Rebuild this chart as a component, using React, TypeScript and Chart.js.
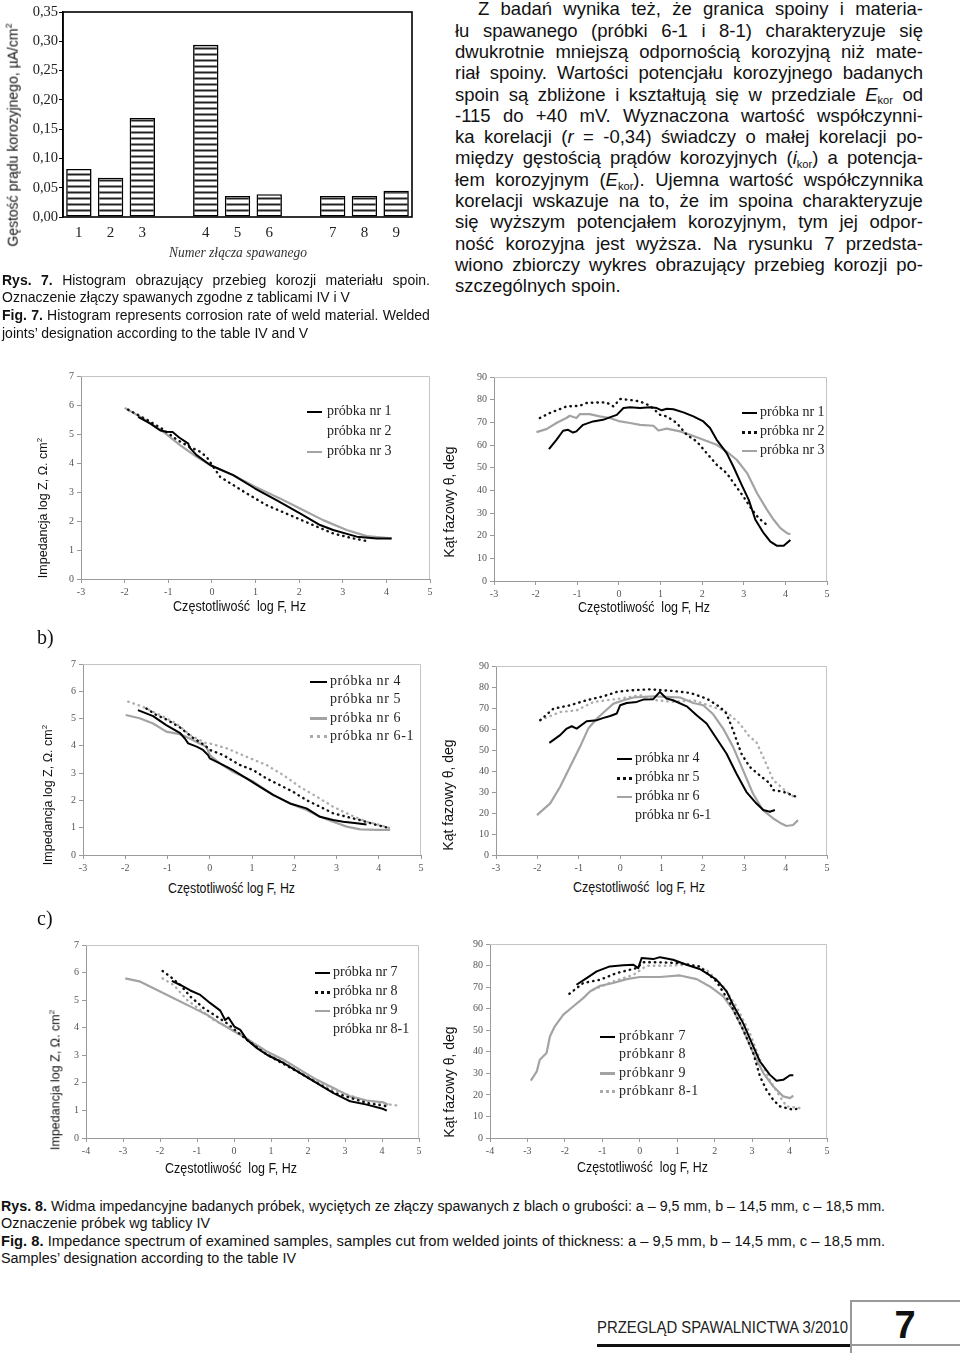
import React, { useEffect, useLayoutEffect, useRef } from "react";
import { Chart, registerables } from "chart.js";
Chart.register(...registerables);

type Pt = [number, number];
type Kind = "k" | "kd" | "g" | "gd" | "";

// ---------- Rys. 7 histogram ----------
const histCategories = ["1", "2", "3", "", "4", "5", "6", "", "7", "8", "9"];
const histValues: (number | null)[] = [0.082, 0.067, 0.169, null, 0.294, 0.036, 0.039, null, 0.036, 0.036, 0.045];

// ---------- Rys. 8a ----------
const zA1: Pt[] = [[-1.69,5.59],[-1.4,5.35],[-1.19,5.13],[-1.05,5.08],[-0.9,5.07],[-0.75,4.88],[-0.54,4.67],[-0.52,4.55],[-0.35,4.27],[-0.04,3.93],[0.49,3.58],[0.99,3.12],[1.48,2.72],[2.02,2.26],[2.48,1.86],[2.78,1.69],[3.32,1.46],[3.78,1.4],[4.12,1.4]];
const zA2: Pt[] = [[-1.92,5.84],[-1.5,5.5],[-1.15,5.19],[-0.8,4.8],[-0.5,4.55],[-0.27,4.39],[-0.12,4.21],[0.19,3.52],[0.8,2.95],[1.25,2.55],[1.87,2.15],[2.32,1.86],[2.78,1.57],[3.24,1.4],[3.62,1.29]];
const zA3: Pt[] = [[-2.0,5.9],[-1.57,5.53],[-1.11,5.07],[-0.73,4.62],[-0.35,4.21],[0.03,3.87],[0.49,3.58],[0.99,3.18],[1.56,2.78],[2.02,2.43],[2.55,2.03],[3.09,1.69],[3.55,1.48],[4.12,1.4]];
const pA1: Pt[] = [[-1.68,58.2],[-1.5,62.3],[-1.34,66.3],[-1.22,66.7],[-1.1,65.5],[-1.02,66.0],[-0.86,68.9],[-0.62,70.4],[-0.38,71.1],[-0.22,72.2],[-0.05,73.3],[0.11,76.3],[0.27,76.7],[0.51,76.3],[0.75,76.7],[0.91,76.3],[1.03,75.3],[1.15,76.0],[1.31,75.8],[1.55,74.4],[1.79,72.6],[2.03,70.4],[2.19,67.5],[2.35,62.3],[2.59,56.4],[2.75,50.5],[2.95,42.4],[3.12,35.8],[3.28,27.0],[3.48,21.1],[3.64,17.4],[3.8,15.5],[3.96,15.5],[4.12,18.1]];
const pA2: Pt[] = [[-1.9,71.9],[-1.66,74.1],[-1.26,77.0],[-0.94,77.3],[-0.78,78.5],[-0.46,78.8],[-0.3,78.8],[-0.13,77.0],[0.03,80.3],[0.19,80.0],[0.35,79.7],[0.51,79.2],[0.75,77.3],[0.99,73.3],[1.15,72.6],[1.39,69.7],[1.63,64.5],[1.87,61.6],[2.11,56.4],[2.35,51.3],[2.59,47.6],[2.79,42.4],[2.99,37.3],[3.2,31.4],[3.36,27.7],[3.56,24.7]];
const pA3: Pt[] = [[-1.98,65.7],[-1.74,67.0],[-1.5,69.7],[-1.26,71.9],[-1.18,72.9],[-1.02,71.9],[-0.94,73.6],[-0.7,73.6],[-0.46,72.6],[-0.22,71.9],[0.03,70.4],[0.27,69.7],[0.51,68.9],[0.83,68.5],[0.95,66.4],[1.15,67.2],[1.47,66.0],[1.71,64.5],[2.03,62.3],[2.35,60.1],[2.59,57.1],[2.83,53.5],[3.08,47.6],[3.32,38.7],[3.56,31.4],[3.72,27.0],[3.88,23.3],[4.04,21.1],[4.12,20.6]];

// ---------- Rys. 8b ----------
const zB4: Pt[] = [[-1.7,5.31],[-1.34,5.09],[-1.03,4.76],[-0.71,4.48],[-0.59,4.27],[-0.51,4.09],[-0.31,3.97],[-0.16,3.85],[-0.04,3.66],[0.0,3.54],[0.24,3.36],[0.55,3.11],[0.87,2.81],[1.19,2.5],[1.5,2.2],[1.9,1.89],[2.29,1.71],[2.61,1.4],[2.92,1.28],[3.16,1.22],[3.48,1.16],[3.71,1.12]];
const zB5: Pt[] = [[-1.5,5.37],[-1.26,5.13],[-1.03,4.97],[-0.71,4.68],[-0.4,4.3],[-0.1,4.0],[0.0,3.85],[0.32,3.66],[0.71,3.3],[1.03,3.11],[1.34,2.81],[1.66,2.56],[1.97,2.32],[2.29,2.01],[2.61,1.77],[2.92,1.53],[3.24,1.4],[3.56,1.28],[3.95,1.1],[4.27,0.98]];
const zB6: Pt[] = [[-1.99,5.13],[-1.66,5.01],[-1.34,4.82],[-1.03,4.52],[-0.71,4.43],[-0.47,4.27],[-0.24,4.09],[-0.08,3.97],[0.0,3.66],[0.24,3.36],[0.55,3.05],[1.03,2.69],[1.5,2.2],[1.9,1.89],[2.29,1.65],[2.61,1.4],[2.92,1.22],[3.24,1.04],[3.56,0.94],[3.95,0.92],[4.27,0.92]];
const zB61: Pt[] = [[-1.93,5.62],[-1.58,5.43],[-1.18,5.13],[-0.79,4.82],[-0.47,4.4],[-0.08,4.09],[0.0,4.09],[0.4,3.91],[0.87,3.6],[1.34,3.3],[1.74,2.93],[2.13,2.5],[2.53,2.14],[2.92,1.77],[3.32,1.47],[3.71,1.22],[4.03,1.1],[4.27,0.98]];
const pB4: Pt[] = [[-1.71,53.4],[-1.45,57.1],[-1.29,60.2],[-1.17,61.3],[-1.05,60.2],[-0.81,63.7],[-0.56,64.2],[-0.4,65.3],[-0.24,66.2],[-0.08,67.4],[0.0,71.3],[0.16,72.4],[0.4,72.9],[0.56,74.0],[0.8,74.2],[0.96,77.7],[1.12,74.5],[1.28,73.7],[1.61,70.8],[1.85,66.6],[2.09,62.6],[2.33,55.5],[2.57,48.3],[2.81,38.8],[3.05,30.1],[3.29,24.6],[3.46,21.4],[3.62,20.6],[3.74,21.4]];
const pB5: Pt[] = [[-1.93,64.2],[-1.61,69.7],[-1.21,71.3],[-0.81,73.7],[-0.4,75.6],[-0.08,77.7],[0.24,78.4],[0.72,78.9],[1.28,78.1],[1.69,77.2],[2.09,74.5],[2.41,70.5],[2.57,67.4],[2.73,59.4],[2.93,48.3],[3.13,42.0],[3.37,38.0],[3.62,34.1],[3.7,30.9],[3.94,30.1],[4.26,27.7]];
const pB6: Pt[] = [[-2.01,19.0],[-1.69,24.6],[-1.45,32.5],[-1.21,42.0],[-0.97,51.5],[-0.77,60.2],[-0.56,65.0],[-0.32,69.3],[-0.16,72.1],[0.08,73.7],[0.32,75.0],[0.8,75.6],[1.12,75.3],[1.45,75.0],[1.77,72.4],[2.01,71.3],[2.25,67.0],[2.49,60.2],[2.73,51.5],[2.97,40.4],[3.21,29.3],[3.45,21.4],[3.7,17.4],[3.86,15.4],[4.02,13.8],[4.18,14.3],[4.3,16.6]];
const pB61: Pt[] = [[-1.93,64.2],[-1.45,68.1],[-1.05,68.9],[-0.64,72.9],[-0.32,73.7],[0.0,74.5],[0.48,76.1],[0.88,73.7],[1.28,72.9],[1.77,73.7],[2.25,70.5],[2.57,68.1],[2.89,62.6],[3.13,56.3],[3.29,53.9],[3.49,45.2],[3.7,35.7],[4.02,30.1],[4.26,26.9]];

// ---------- Rys. 8c ----------
const zC7: Pt[] = [[-1.68,5.7],[-1.45,5.55],[-1.18,5.35],[-0.91,5.19],[-0.64,4.89],[-0.37,4.62],[-0.24,4.28],[-0.15,4.37],[0.01,4.04],[0.17,3.92],[0.35,3.56],[0.62,3.26],[0.89,3.02],[1.34,2.72],[1.79,2.35],[2.24,1.99],[2.69,1.63],[3.14,1.33],[3.59,1.21],[4.04,1.05],[4.13,0.99]];
const zC8: Pt[] = [[-1.93,6.06],[-1.72,5.85],[-1.45,5.55],[-1.18,5.13],[-0.82,4.71],[-0.46,4.4],[-0.19,4.16],[0.35,3.56],[0.89,3.02],[1.79,2.35],[2.69,1.65],[3.59,1.27],[4.13,1.15]];
const zC9: Pt[] = [[-2.94,5.79],[-2.53,5.67],[-2.08,5.37],[-1.63,5.07],[-1.09,4.71],[-0.73,4.47],[-0.37,4.16],[0.01,3.86],[0.26,3.68],[0.53,3.44],[0.89,3.14],[1.34,2.84],[1.79,2.47],[2.24,2.11],[2.69,1.81],[3.14,1.51],[3.59,1.36],[4.04,1.29],[4.17,1.21]];
const zC81: Pt[] = [[-1.93,5.79],[-1.63,5.55],[-1.27,5.01],[-0.91,4.65],[-0.55,4.28],[-0.19,4.04],[0.17,3.74],[0.89,3.08],[1.79,2.41],[2.69,1.75],[3.59,1.33],[4.45,1.17]];
const pC7: Pt[] = [[-1.69,71.1],[-1.42,74.2],[-1.15,77.3],[-0.8,79.6],[-0.44,80.1],[-0.17,80.4],[-0.04,78.8],[0.05,83.5],[0.36,83.0],[0.54,83.9],[0.89,82.7],[1.25,80.4],[1.6,78.4],[1.78,76.5],[2.05,73.4],[2.32,68.0],[2.49,61.8],[2.76,53.3],[3.03,42.5],[3.21,35.5],[3.47,29.4],[3.65,26.6],[3.83,27.0],[4.01,29.1],[4.1,29.1]];
const pC8: Pt[] = [[-1.88,66.9],[-1.51,71.9],[-1.06,73.4],[-0.62,76.5],[-0.09,78.8],[0.09,81.5],[0.54,81.5],[1.07,81.1],[1.6,79.6],[2.05,72.6],[2.41,62.6],[2.76,50.2],[3.03,39.4],[3.21,28.6],[3.38,22.4],[3.56,17.8],[3.74,14.7],[4.1,13.1],[4.27,13.9]];
const pC9: Pt[] = [[-2.91,26.6],[-2.75,30.9],[-2.67,36.3],[-2.49,39.4],[-2.4,47.1],[-2.27,51.8],[-2.04,57.2],[-1.78,61.0],[-1.51,64.9],[-1.33,68.0],[-1.06,70.6],[-0.71,71.9],[-0.35,73.7],[0.0,74.7],[0.54,74.7],[1.07,75.4],[1.52,73.7],[1.87,70.3],[2.23,65.7],[2.49,59.5],[2.76,50.2],[3.03,39.4],[3.3,30.1],[3.56,24.0],[3.83,19.3],[4.01,18.5],[4.1,19.6]];
const pC81: Pt[] = [[-1.24,68.8],[-0.71,72.6],[-0.17,75.7],[0.18,79.9],[0.72,79.9],[1.25,80.4],[1.78,78.1],[2.23,70.3],[2.58,61.0],[2.94,48.7],[3.21,36.3],[3.47,27.0],[3.74,19.3],[3.92,14.7],[4.27,13.9]];

// ---------- texts ----------
const paraLines = [
  "Z badań wynika też, że granica spoiny i materia-",
  "łu spawanego (próbki 6-1 i 8-1) charakteryzuje się",
  "dwukrotnie mniejszą odpornością korozyjną niż mate-",
  "riał spoiny. Wartości potencjału korozyjnego badanych",
  "spoin są zbliżone i kształtują się w przedziale {E} od",
  "-115 do +40 mV. Wyznaczona wartość współczynni-",
  "ka korelacji ({r} = -0,34) świadczy o małej korelacji po-",
  "między gęstością prądów korozyjnych ({i}) a potencja-",
  "łem korozyjnym ({E}). Ujemna wartość współczynnika",
  "korelacji wskazuje na to, że im spoina charakteryzuje",
  "się wyższym potencjałem korozyjnym, tym jej odpor-",
  "ność korozyjna jest wyższa. Na rysunku 7 przedsta-",
  "wiono zbiorczy wykres obrazujący przebieg korozji po-",
  "szczególnych spoin.",
];
const cap7Lines = [
  "*Rys. *7. Histogram obrazujący przebieg korozji materiału spoin.",
  "Oznaczenie złączy spawanych zgodne z tablicami IV i V",
  "*Fig. *7. Histogram represents corrosion rate of weld material. Welded",
  "joints’ designation according to the table IV and V",
];
const cap8Lines = [
  ["Rys. 8.", " Widma impedancyjne badanych próbek, wyciętych ze złączy spawanych z blach o grubości: a – 9,5 mm, b – 14,5 mm, c – 18,5 mm."],
  ["", "Oznaczenie próbek wg tablicy IV"],
  ["Fig. 8.", " Impedance spectrum of examined samples, samples cut from welded joints of thickness: a – 9,5 mm, b – 14,5 mm, c – 18,5 mm."],
  ["", "Samples’ designation according to the table IV"],
];

const serif = "'Liberation Serif','Times New Roman',serif";
const sans = "'Liberation Sans',Arial,Helvetica,sans-serif";

type Plot = { l: number; t: number; r: number; b: number };
type Dims = { padL: number; padT: number; padR: number; padB: number; yW: number; xH: number };

const fixY = (w: number) => (s: any) => { s.width = w; s.paddingTop = 0; s.paddingBottom = 0; s.paddingLeft = 0; s.paddingRight = 0; };
const fixX = (h: number) => (s: any) => { s.height = h; s.paddingTop = 0; s.paddingBottom = 0; s.paddingLeft = 0; s.paddingRight = 0; };

function ChartCanvas({ plot, yW, xH, make }: { plot: Plot; yW: number; xH: number; make: (d: Dims) => any }) {
  const ref = useRef<HTMLCanvasElement | null>(null);
  const d: Dims = { padL: 2, padT: 10, padR: 12, padB: 2, yW, xH };
  const left = plot.l - yW - d.padL;
  const top = plot.t - d.padT;
  const width = plot.r - plot.l + yW + d.padL + d.padR;
  const height = plot.b - plot.t + d.padT + xH + d.padB;
  useEffect(() => {
    const c = new Chart(ref.current as HTMLCanvasElement, make(d));
    return () => c.destroy();
  }, []);
  return <canvas ref={ref} width={width} height={height} style={{ position: "absolute", left, top, width, height }} />;
}

function styleOf(kind: Kind): any {
  if (kind === "k") return { borderColor: "#000", borderWidth: 2 };
  if (kind === "g") return { borderColor: "#a3a3a3", borderWidth: 2.2 };
  if (kind === "kd") return { borderColor: "#111", borderWidth: 2.4, borderDash: [0.5, 5], borderCapStyle: "round" };
  return { borderColor: "#adadad", borderWidth: 2.4, borderDash: [0.5, 5], borderCapStyle: "round" };
}

const topRightFrame = {
  id: "trframe",
  afterDatasetsDraw(chart: any) {
    const { ctx, chartArea: a } = chart;
    ctx.save();
    ctx.strokeStyle = "#c4c4c4";
    ctx.lineWidth = 1;
    ctx.beginPath();
    ctx.moveTo(a.left, a.top + 0.5);
    ctx.lineTo(a.right - 0.5, a.top + 0.5);
    ctx.lineTo(a.right - 0.5, a.bottom);
    ctx.stroke();
    ctx.restore();
  },
};

function lineConfig(series: { pts: Pt[]; kind: Kind }[], xMin: number, yMax: number, yStep: number) {
  return (d: Dims) => ({
    type: "scatter",
    data: {
      datasets: series.map((s) => ({
        data: s.pts.map(([x, y]) => ({ x, y })),
        showLine: true,
        pointRadius: 0,
        tension: 0,
        fill: false,
        borderJoinStyle: "round",
        ...styleOf(s.kind),
      })),
    },
    options: {
      animation: false,
      responsive: false,
      events: [],
      layout: { padding: { left: d.padL, top: d.padT, right: d.padR, bottom: d.padB } },
      plugins: { legend: { display: false }, tooltip: { enabled: false } },
      scales: {
        x: {
          type: "linear", min: xMin, max: 5,
          ticks: { stepSize: 1, font: { family: serif, size: 10 }, color: "#555", padding: 3, maxRotation: 0, autoSkip: false },
          grid: { drawOnChartArea: false, drawTicks: true, tickLength: 4, color: "#9a9a9a" },
          border: { color: "#9a9a9a" },
          afterFit: fixX(d.xH),
        },
        y: {
          type: "linear", min: 0, max: yMax,
          ticks: { stepSize: yStep, font: { family: serif, size: 10 }, color: "#555", padding: 3, autoSkip: false },
          grid: { drawOnChartArea: false, drawTicks: true, tickLength: 4, color: "#9a9a9a" },
          border: { color: "#9a9a9a" },
          afterFit: fixY(d.yW),
        },
      },
    },
    plugins: [topRightFrame],
  });
}

function histConfig(d: Dims) {
  const pc = document.createElement("canvas");
  pc.width = 6; pc.height = 6;
  const pctx = pc.getContext("2d") as CanvasRenderingContext2D;
  pctx.fillStyle = "#fff"; pctx.fillRect(0, 0, 6, 6);
  pctx.fillStyle = "#222"; pctx.fillRect(0, 3.5, 6, 2);
  const pattern = pctx.createPattern(pc, "repeat");
  return {
    type: "bar",
    data: {
      labels: histCategories,
      datasets: [{
        data: histValues,
        backgroundColor: pattern,
        borderColor: "#000",
        borderWidth: 1.6,
        borderSkipped: false,
        barPercentage: 0.8,
        categoryPercentage: 1,
      }],
    },
    options: {
      animation: false,
      responsive: false,
      events: [],
      layout: { padding: { left: d.padL, top: d.padT, right: d.padR, bottom: d.padB } },
      plugins: { legend: { display: false }, tooltip: { enabled: false } },
      scales: {
        x: {
          ticks: { font: { family: serif, size: 15 }, color: "#222", padding: 7, maxRotation: 0, autoSkip: false },
          grid: { display: false, drawTicks: false },
          border: { display: false },
          afterFit: fixX(d.xH),
        },
        y: {
          min: 0, max: 0.35,
          ticks: { stepSize: 0.05, font: { family: serif, size: 14.5 }, color: "#222", padding: 1,
            callback: (v: any) => Number(v).toFixed(2).replace(".", ",") },
          grid: { drawOnChartArea: false, drawTicks: true, tickLength: 4, color: "#000" },
          border: { color: "#000", width: 1.5 },
          afterFit: fixY(d.yW),
        },
      },
    },
    plugins: [{
      id: "hframe",
      afterDatasetsDraw(chart: any) {
        const { ctx, chartArea: a } = chart;
        ctx.save();
        ctx.strokeStyle = "#000";
        ctx.lineWidth = 1.6;
        ctx.strokeRect(a.left, a.top, a.right - a.left, a.bottom - a.top);
        ctx.restore();
      },
    }],
  };
}

function Word({ w }: { w: string }) {
  const parts = w.split(/(\{[Eir]\})/);
  return (
    <span>
      {parts.map((p, i) => {
        const m = p.match(/^\{([Eir])\}$/);
        if (!m) return <React.Fragment key={i}>{p}</React.Fragment>;
        return (
          <span key={i}>
            <i>{m[1]}</i>
            {m[1] !== "r" && <span style={{ fontSize: "0.6em", position: "relative", top: "0.35em" }}>kor</span>}
          </span>
        );
      })}
    </span>
  );
}

function JustLine({ text, left, top, width, font, lh, justify }: { text: string; left: number; top: number; width: number; font: string; lh: number; justify: boolean }) {
  const tokens = text.split(" ");
  if (!justify) {
    return (
      <div style={{ position: "absolute", left, top, height: lh, lineHeight: lh + "px", font, whiteSpace: "pre", color: "#111" }}>
        {tokens.map((t, i) => <React.Fragment key={i}>{i > 0 ? " " : ""}<Word w={t} /></React.Fragment>)}
      </div>
    );
  }
  return (
    <div style={{ position: "absolute", left, top, width, height: lh, lineHeight: lh + "px", font, display: "flex", justifyContent: "space-between", whiteSpace: "pre", color: "#111" }}>
      {tokens.map((t, i) => <Word key={i} w={t} />)}
    </div>
  );
}

function CapLine({ text, left, top, width, justify }: { text: string; left: number; top: number; width: number; justify: boolean }) {
  // '*' marks bold words
  const tokens = text.split(" ").map((t) => t.replace(/\*/g, ""));
  const boldCount = (text.match(/\*/g) || []).length;
  const style: React.CSSProperties = { position: "absolute", left, top, height: 18, lineHeight: "18px", font: `14px ${sans}`, whiteSpace: "pre", color: "#111" };
  const items = tokens.map((t, i) => <span key={i} style={{ fontWeight: i < boldCount ? 700 : 400 }}>{t}</span>);
  if (justify) return <div style={{ ...style, width, display: "flex", justifyContent: "space-between" }}>{items}</div>;
  return <div style={style}>{items.map((it, i) => <React.Fragment key={i}>{i > 0 ? " " : ""}{it}</React.Fragment>)}</div>;
}

function FitText({ left, cy, width, h, style, children }: { left: number; cy: number; width: number; h: number; style?: React.CSSProperties; children: React.ReactNode }) {
  const ref = useRef<HTMLSpanElement | null>(null);
  useLayoutEffect(() => {
    const el = ref.current;
    if (!el) return;
    el.style.transform = "none";
    const w = el.getBoundingClientRect().width;
    if (w > 0) el.style.transform = `scaleX(${width / w})`;
  }, []);
  return (
    <span ref={ref} style={{ position: "absolute", left, top: cy - h / 2, height: h, lineHeight: h + "px", whiteSpace: "pre", display: "inline-block", transformOrigin: "0 50%", color: "#111", ...style }}>
      {children}
    </span>
  );
}

function VTitle({ cx, cy, text, size }: { cx: number; cy: number; text: React.ReactNode; size: number }) {
  return (
    <div style={{ position: "absolute", left: cx, top: cy, transform: "translate(-50%,-50%) rotate(-90deg)", whiteSpace: "pre", font: `${size}px ${sans}`, color: "#111" }}>
      {text}
    </div>
  );
}

function Legend({ x, sw, tx, y, gap, items, ls }: { x: number; sw: number; tx: number; y: number; gap: number; items: [string, Kind][]; ls?: number }) {
  return (
    <>
      {items.map(([label, kind], i) => {
        const cy = y + i * gap;
        let sample: React.CSSProperties | null = null;
        if (kind === "k") sample = { top: cy - 1.25, height: 2.5, background: "#000" };
        if (kind === "g") sample = { top: cy - 1.25, height: 2.5, background: "#a3a3a3" };
        if (kind === "kd") sample = { top: cy - 1.5, height: 0, borderTop: "3px dotted #111" };
        if (kind === "gd") sample = { top: cy - 1.5, height: 0, borderTop: "3px dotted #aaa" };
        return (
          <React.Fragment key={i}>
            {sample && <div style={{ position: "absolute", left: x, width: sw, ...sample }} />}
            <div style={{ position: "absolute", left: tx, top: cy - 9, height: 18, lineHeight: "18px", font: `14px ${serif}`, color: "#222", whiteSpace: "pre", letterSpacing: ls || 0 }}>{label}</div>
          </React.Fragment>
        );
      })}
    </>
  );
}

const impTitle = <span>Impedancja log Z, Ω. cm<sup style={{ fontSize: "0.65em" }}>2</sup></span>;
const phaseTitle = "Kąt fazowy θ, deg";

export default function App() {
  return (
    <div style={{ position: "absolute", left: 0, top: 0, width: 960, height: 1353, background: "#fff", overflow: "hidden", fontFamily: sans }}>
      {/* Histogram */}
      <ChartCanvas plot={{ l: 63, t: 12, r: 412, b: 217 }} yW={60} xH={28} make={histConfig} />
      <VTitle cx={12} cy={135} size={14} text={<span>Gęstość prądu korozyjnego, µA/cm<sup style={{ fontSize: "0.65em" }}>2</sup></span>} />
      <FitText left={169} cy={253} width={138} h={18} style={{ font: `italic 15px ${serif}`, color: "#333" }}>Numer złącza spawanego</FitText>

      {/* Paragraph */}
      {paraLines.map((t, i) => (
        <JustLine key={i} text={t} left={i === 0 ? 478 : 455} top={9 + i * 21.3 - 10.65} width={i === 0 ? 445 : 468}
          font={`18.5px ${sans}`} lh={21.3} justify={i < paraLines.length - 1} />
      ))}

      {/* Caption Rys. 7 */}
      {cap7Lines.map((t, i) => (
        <CapLine key={i} text={t} left={2} top={[281, 298, 316, 334][i] - 9} width={428} justify={i === 0 || i === 2} />
      ))}

      {/* Rys 8a */}
      <ChartCanvas plot={{ l: 81, t: 376, r: 430, b: 579 }} yW={30} xH={22}
        make={lineConfig([{ pts: zA1, kind: "k" }, { pts: zA2, kind: "kd" }, { pts: zA3, kind: "g" }], -3, 7, 1)} />
      <Legend x={307} sw={15} tx={327} y={412} gap={20} items={[["próbka nr 1", "k"], ["próbka nr 2", ""], ["próbka nr 3", "g"]]} />
      <VTitle cx={43} cy={508} size={12.5} text={impTitle} />
      <FitText left={173} cy={607} width={133} h={18} style={{ font: `14px ${sans}` }}>Częstotliwość  log F, Hz</FitText>

      <ChartCanvas plot={{ l: 494, t: 377, r: 827, b: 581 }} yW={30} xH={22}
        make={lineConfig([{ pts: pA1, kind: "k" }, { pts: pA2, kind: "kd" }, { pts: pA3, kind: "g" }], -3, 90, 10)} />
      <Legend x={742} sw={15} tx={760} y={413} gap={19} items={[["próbka nr 1", "k"], ["próbka nr 2", "kd"], ["próbka nr 3", "g"]]} />
      <VTitle cx={449} cy={502} size={14} text={phaseTitle} />
      <FitText left={578} cy={608} width={132} h={18} style={{ font: `14px ${sans}` }}>Częstotliwość  log F, Hz</FitText>

      {/* b) */}
      <div style={{ position: "absolute", left: 37, top: 625, font: `20px ${serif}`, lineHeight: "24px", color: "#111" }}>b)</div>
      <ChartCanvas plot={{ l: 83, t: 664, r: 421, b: 855 }} yW={30} xH={22}
        make={lineConfig([{ pts: zB4, kind: "k" }, { pts: zB5, kind: "kd" }, { pts: zB6, kind: "g" }, { pts: zB61, kind: "gd" }], -3, 7, 1)} />
      <Legend x={310} sw={17} tx={330} y={682} gap={18.3} ls={0.6} items={[["próbka nr 4", "k"], ["próbka nr 5", ""], ["próbka nr 6", "g"], ["próbka nr 6-1", "gd"]]} />
      <VTitle cx={48} cy={795} size={12.5} text={impTitle} />
      <FitText left={168} cy={889} width={127} h={18} style={{ font: `14px ${sans}` }}>Częstotliwość log F, Hz</FitText>

      <ChartCanvas plot={{ l: 496, t: 666, r: 827, b: 855 }} yW={30} xH={22}
        make={lineConfig([{ pts: pB4, kind: "k" }, { pts: pB5, kind: "kd" }, { pts: pB6, kind: "g" }, { pts: pB61, kind: "gd" }], -3, 90, 10)} />
      <Legend x={617} sw={15} tx={635} y={759} gap={19} items={[["próbka nr 4", "k"], ["próbka nr 5", "kd"], ["próbka nr 6", "g"], ["próbka nr 6-1", ""]]} />
      <VTitle cx={448} cy={795} size={14} text={phaseTitle} />
      <FitText left={573} cy={888} width={132} h={18} style={{ font: `14px ${sans}` }}>Częstotliwość  log F, Hz</FitText>

      {/* c) */}
      <div style={{ position: "absolute", left: 37, top: 906, font: `20px ${serif}`, lineHeight: "24px", color: "#111" }}>c)</div>
      <ChartCanvas plot={{ l: 86, t: 945, r: 419, b: 1138 }} yW={30} xH={22}
        make={lineConfig([{ pts: zC7, kind: "k" }, { pts: zC8, kind: "kd" }, { pts: zC9, kind: "g" }, { pts: zC81, kind: "gd" }], -4, 7, 1)} />
      <Legend x={315} sw={15} tx={333} y={973} gap={19} items={[["próbka nr 7", "k"], ["próbka nr 8", "kd"], ["próbka nr 9", "g"], ["próbka nr 8-1", ""]]} />
      <VTitle cx={55} cy={1080} size={12.5} text={impTitle} />
      <FitText left={165} cy={1169} width={132} h={18} style={{ font: `14px ${sans}` }}>Częstotliwość  log F, Hz</FitText>

      <ChartCanvas plot={{ l: 490, t: 944, r: 827, b: 1138 }} yW={30} xH={22}
        make={lineConfig([{ pts: pC7, kind: "k" }, { pts: pC8, kind: "kd" }, { pts: pC9, kind: "g" }, { pts: pC81, kind: "gd" }], -4, 90, 10)} />
      <Legend x={600} sw={15} tx={619} y={1037} gap={18.3} ls={0.6} items={[["próbkanr 7", "k"], ["próbkanr 8", ""], ["próbkanr 9", "g"], ["próbkanr 8-1", "gd"]]} />
      <VTitle cx={449} cy={1082} size={14} text={phaseTitle} />
      <FitText left={577} cy={1168} width={131} h={18} style={{ font: `14px ${sans}` }}>Częstotliwość  log F, Hz</FitText>

      {/* Caption Rys. 8 */}
      {cap8Lines.map(([b, t], i) => (
        <FitText key={i} left={1} cy={[1206, 1223, 1241, 1258][i]} width={[884, 209, 884, 295][i]} h={17} style={{ font: `14px ${sans}` }}>
          {b && <b>{b}</b>}{t}
        </FitText>
      ))}

      {/* Footer */}
      <FitText left={597} cy={1329} width={251} h={20} style={{ font: `16px ${sans}`, color: "#222" }}>PRZEGLĄD SPAWALNICTWA 3/2010</FitText>
      <div style={{ position: "absolute", left: 597, top: 1344, width: 253, height: 2.5, background: "#111" }} />
      <div style={{ position: "absolute", left: 850, top: 1300, width: 1.5, height: 53, background: "#999" }} />
      <div style={{ position: "absolute", left: 850, top: 1300, width: 110, height: 1.5, background: "#999" }} />
      <div style={{ position: "absolute", left: 850, top: 1344, width: 110, height: 1.5, background: "#999" }} />
      <div style={{ position: "absolute", left: 890, top: 1305, width: 30, textAlign: "center", font: `bold 38px ${sans}`, lineHeight: "40px", color: "#111" }}>7</div>
    </div>
  );
}
